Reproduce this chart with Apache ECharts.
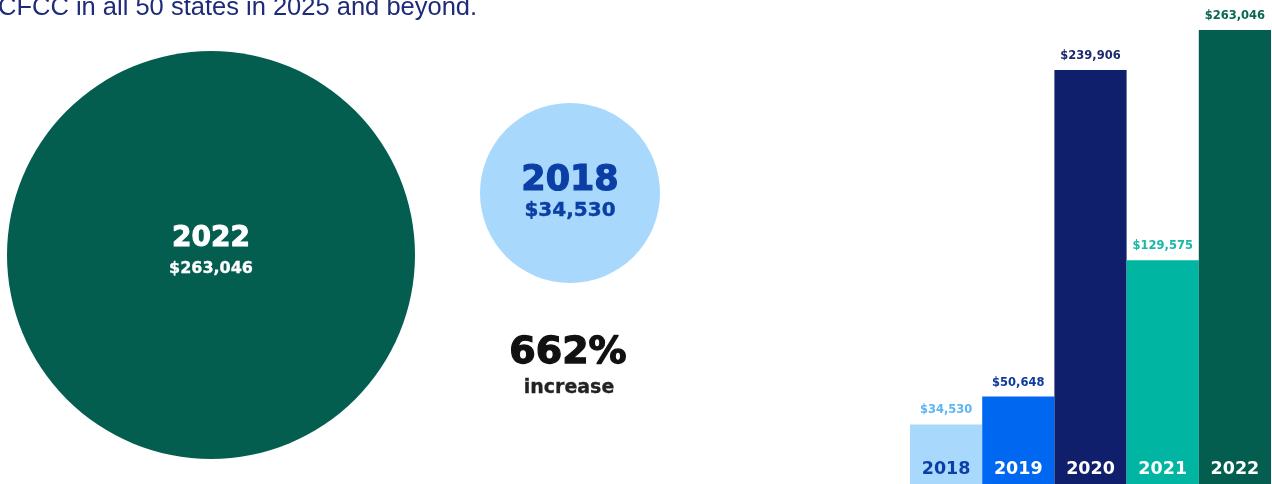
<!DOCTYPE html>
<html>
<head>
<meta charset="utf-8">
<script src="https://cdn.jsdelivr.net/npm/echarts@6/dist/echarts.min.js"></script>
<style>
    html, body { margin: 0; padding: 0; background: #fff; }
    #growthChart { width: 1272px; height: 484px; }
</style>
</head>
<body>
<div id="growthChart"></div>
<script>
// values
const years = ['2018', '2019', '2020', '2021', '2022'];
const amounts = [34530, 50648, 239906, 129575, 263046];
const increasePct = 662;
const headline = 'CFCC in all 50 states in 2025 and beyond.';

// styles
const barColors = ['#a8d8fc', '#0068f0', '#0f1f6b', '#00b6a2', '#045e50'];
const valueColors = ['#5cb6f2', '#0d3a9c', '#1c2a6e', '#17b8a5', '#0b6654'];
const yearColors = ['#0b3fa6', '#ffffff', '#ffffff', '#ffffff', '#ffffff'];

const money = v => '$' + v.toLocaleString('en-US');
const heavy = 'DejaVu Sans';

const chart = echarts.init(document.getElementById('growthChart'));

const first = 0, last = amounts.length - 1;

// bold text, thickened a bit with a same-colour stroke
function bigText(x, y, text, size, color, thick) {
    return {
        type: 'text',
        x: x, y: y,
        style: {
            text: text,
            fontFamily: heavy, fontWeight: 'bold', fontSize: size,
            fill: color, stroke: color, lineWidth: thick || 0,
            align: 'center', verticalAlign: 'middle'
        }
    };
}

const option = {
    animation: false,
    backgroundColor: '#fff',
    grid: { left: 910, right: 1, top: 30, bottom: 0 },
    xAxis: {
        type: 'category',
        data: years,
        z: 10,
        axisLine: { show: false },
        axisTick: { show: false },
        axisLabel: {
            inside: true,
            margin: 6,
            fontFamily: heavy,
            fontWeight: 'bold',
            fontSize: 17.5,
            textBorderWidth: 0.6,
            textBorderColor: 'inherit',
            color: (value, index) => yearColors[index]
        }
    },
    yAxis: {
        type: 'value',
        min: 0,
        max: 'dataMax',
        show: false,
        splitLine: { show: false }
    },
    series: [{
        type: 'bar',
        barCategoryGap: '0%',
        data: amounts.map((v, i) => ({
            value: v,
            itemStyle: { color: barColors[i] },
            label: { color: valueColors[i] }
        })),
        label: {
            show: true,
            position: 'top',
            distance: 8,
            fontFamily: heavy,
            fontWeight: 'bold',
            fontSize: 11.5,
            formatter: p => money(p.value)
        }
    }],
    graphic: [
        {
            type: 'text',
            x: -2, y: 21,
            style: {
                text: headline,
                fontFamily: 'Liberation Sans',
                fontSize: 25.5,
                fill: '#1e2b78',
                verticalAlign: 'bottom'
            }
        },
        // big circle: latest year
        {
            type: 'circle',
            shape: { cx: 211, cy: 255, r: 204 },
            style: { fill: barColors[last] }
        },
        bigText(211, 239, years[last], 28, '#fff', 1),
        bigText(211, 269, money(amounts[last]), 16, '#fff', 0.3),
        // small circle: first year
        {
            type: 'circle',
            shape: { cx: 570, cy: 193, r: 90 },
            style: { fill: barColors[first] }
        },
        bigText(570, 181, years[first], 35, '#0b3fa6', 1.2),
        bigText(570, 211, money(amounts[first]), 20, '#0b3fa6', 0.4),
        bigText(568, 353, increasePct + '%', 38, '#111', 1.3),
        bigText(569, 388, 'increase', 19, '#222', 0.3)
    ]
};

chart.setOption(option);
</script>
</body>
</html>
